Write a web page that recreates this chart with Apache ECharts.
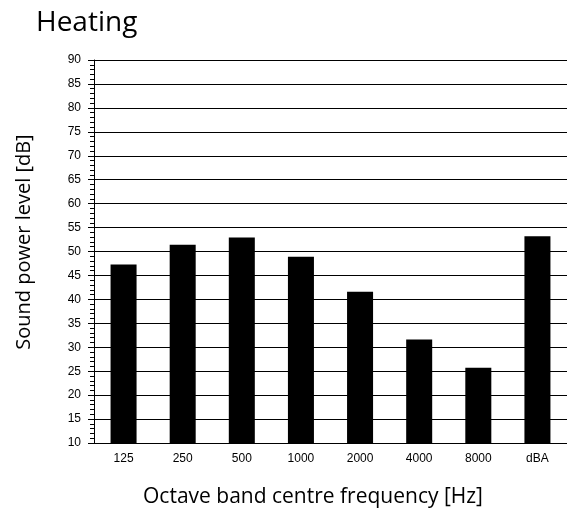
<!DOCTYPE html>
<html><head><meta charset="utf-8">
<script src="https://cdn.jsdelivr.net/npm/echarts@6/dist/echarts.min.js"></script>
<style>html,body{margin:0;padding:0;background:#fff}#c{width:567px;height:515px}</style>
</head><body><div id="c"></div>
<script>
const categories = ['125','250','500','1000','2000','4000','8000','dBA'];
const levels = [47.3, 51.4, 52.9, 48.9, 41.6, 31.6, 25.7, 53.2];
const yMin = 10, yMax = 90, yStep = 5;

const chart = echarts.init(document.getElementById('c'), null, {renderer:'canvas'});
chart.setOption({
  backgroundColor:'#fff',
  animation:false,
  title:{text:'Heating', left:31, top:4, textStyle:{fontFamily:'Open Sans', fontSize:28, fontWeight:'normal', color:'#000'}},
  grid:{left:94, right:-4, top:60, bottom:72, containLabel:false},
  graphic:[
    {type:'text', x:24, y:242, rotation:Math.PI/2,
     style:{text:'Sound power level [dB]', fontFamily:'Open Sans', fontSize:20, fill:'#000', align:'center', verticalAlign:'middle'}},
    {type:'text', x:313, y:497,
     style:{text:'Octave band centre frequency [Hz]', fontFamily:'Open Sans', fontSize:21, fill:'#000', align:'center', verticalAlign:'middle'}}
  ],
  xAxis:{type:'category', data:categories,
    axisLine:{lineStyle:{color:'#000'}}, axisTick:{show:false},
    axisLabel:{fontFamily:'Liberation Sans', fontSize:12, color:'#000', margin:10}},
  yAxis:{type:'value', min:yMin, max:yMax, interval:yStep,
    axisLine:{show:true, lineStyle:{color:'#000'}},
    axisTick:{show:true, length:6, lineStyle:{color:'#000'}},
    minorTick:{show:true, splitNumber:5, length:4, lineStyle:{color:'#000'}},
    splitLine:{show:true, lineStyle:{color:'#000', width:1}},
    axisLabel:{fontFamily:'Liberation Sans', fontSize:12, color:'#000', margin:13}},
  series:[{type:'bar', data:levels, barWidth:'44%', itemStyle:{color:'#000'}}]
});
</script></body></html>
